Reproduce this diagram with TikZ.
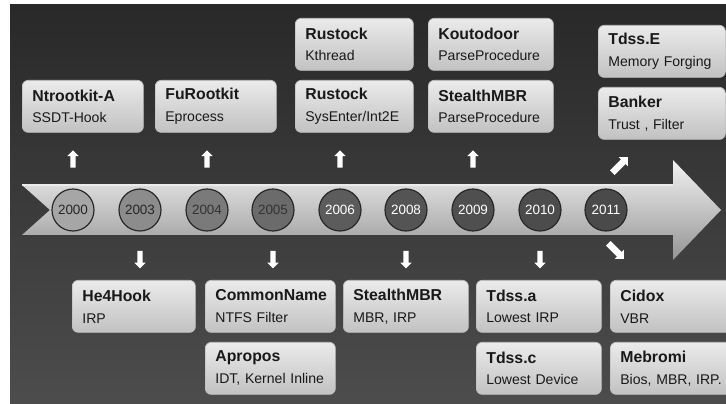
\documentclass[tikz,border=0pt]{standalone}
\usepackage{fontspec}
\setmainfont{Liberation Sans}
\usetikzlibrary{positioning, shapes.arrows}

\newcommand{\kitlabel}[2]{{\fontsize{13.5}{18.7}\selectfont\bfseries #1}\\#2}

\begin{document}
\begin{tikzpicture}[x=0.03cm, y=-0.03cm,
    kit/.style={draw=white!75!black, line width=0.6pt, rounded corners=5pt,
        top color=black!8, bottom color=black!24, anchor=north west,
        minimum height=1.56cm, inner xsep=0.3cm, inner ysep=0pt, align=left,
        minimum width=#1*0.03cm, text width=#1*0.03cm-0.6cm,
        font=\fontsize{12}{18.7}\selectfont, text=black!90},
    ano/.style={circle, draw=black!85, line width=1pt, minimum size=1.26cm,
        inner sep=0pt, font=\fontsize{11.5}{12}\selectfont},
    seta/.style={single arrow, fill=white, draw=none, minimum height=0.52cm,
        inner xsep=0pt, inner ysep=0.075cm, single arrow head extend=0.09cm,
        single arrow head indent=0pt},
    setadiag/.style={seta, minimum height=0.66cm, inner ysep=0.09cm,
        single arrow head extend=0.1cm}
]
        \useasboundingbox (0,0) rectangle (726,404);
        % Fundo
        \fill[white] (0,0) rectangle (726,404);
        \shade[top color=black!84, bottom color=black!70] (10,5) rectangle (726,404);
        % Seta do tempo
        \shade[top color=black!5, middle color=black!22, bottom color=black!42]
            (22,185) -- (673,185) -- (673,160) -- (721,210) -- (673,260)
            -- (673,235) -- (22,235) -- (50,210) -- cycle;
        \draw[white!92!black, line width=1pt] (22,185) -- (673,185);
        % Anos
        \foreach \yr/\xx/\tom/\cor in {2000/73/35/black!85, 2003/140/45/black!85,
                2004/207/52/black!80, 2005/273/58/black!80, 2006/340/64/white,
                2008/406/67/white, 2009/473/69/white, 2010/540/70/white,
                2011/606/71/white}
            \node[ano, fill=black!\tom, text=\cor] (a\yr) at (\xx,210) {\yr};
        % Setas pequenas
        \foreach \yr in {2000,2004,2006,2009}
            \node[seta, rotate=90] (up\yr) at ([yshift=0.84cm]a\yr.north) {};
        \foreach \yr in {2003,2005,2008,2010}
            \node[seta, rotate=-90] (dn\yr) at ([yshift=-0.8cm]a\yr.south) {};
        \node[setadiag, rotate=45] (up2011) at ([xshift=0.39cm, yshift=1.32cm]a2011.center) {};
        \node[setadiag, rotate=-45] (dn2011) at ([xshift=0.27cm, yshift=-1.2cm]a2011.center) {};
        % Caixas acima
        \node[kit=121] (ntrootkit) at (22,80) {\kitlabel{Ntrootkit-A}{SSDT-Hook}};
        \node[kit=121] (furootkit) at (155,80) {\kitlabel{FuRootkit}{Eprocess}};
        \node[kit=118] (rustocka) at (295,18) {\kitlabel{Rustock}{Kthread}};
        \node[kit=118] (rustockb) at (295,80) {\kitlabel{Rustock}{SysEnter/Int2E}};
        \node[kit=125] (koutodoor) at (428,18) {\kitlabel{Koutodoor}{ParseProcedure}};
        \node[kit=125] (stealthmbra) at (428,80) {\kitlabel{StealthMBR}{ParseProcedure}};
        \node[kit=127] (tdsse) at (598,25) {\kitlabel{Tdss.E}{Memory Forging}};
        \node[kit=127] (banker) at (598,87) {\kitlabel{Banker}{Trust , Filter}};
        % Caixas abaixo
        \node[kit=123] (he4hook) at (72,280) {\kitlabel{He4Hook}{IRP}};
        \node[kit=130] (commonname) at (205,280) {\kitlabel{CommonName}{NTFS Filter}};
        \node[kit=130] (apropos) at (205,342) {\kitlabel{Apropos}{IDT, Kernel Inline}};
        \node[kit=125] (stealthmbrb) at (343,280) {\kitlabel{StealthMBR}{MBR, IRP}};
        \node[kit=125] (tdssa) at (476,280) {\kitlabel{Tdss.a}{Lowest IRP}};
        \node[kit=125] (tdssc) at (476,342) {\kitlabel{Tdss.c}{Lowest Device}};
        \node[kit=125] (cidox) at (610,280) {\kitlabel{Cidox}{VBR}};
        \node[kit=125] (mebromi) at (610,342) {\kitlabel{Mebromi}{Bios, MBR, IRP.}};
    \end{tikzpicture}
\end{document}
